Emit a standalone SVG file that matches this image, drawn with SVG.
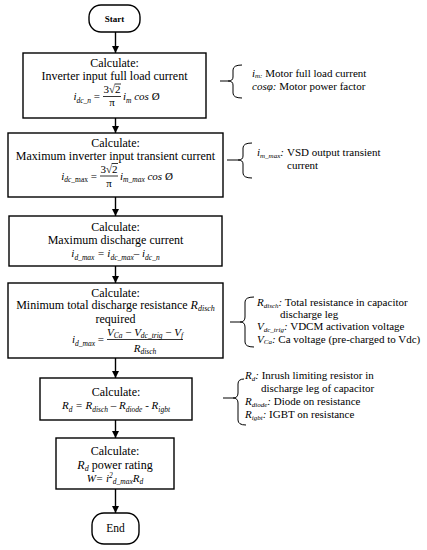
<svg xmlns="http://www.w3.org/2000/svg" width="427" height="550" viewBox="0 0 427 550">
<defs>
<marker id="ah" viewBox="0 0 10 10" refX="10" refY="5" markerWidth="7" markerHeight="7" orient="auto" markerUnits="userSpaceOnUse"><path d="M0,0 L10,5 L0,10 z" fill="#000"/></marker>
<style>
.b{fill:#fff;stroke:#000;stroke-width:1.4}
text{font-family:"Liberation Serif","Times New Roman",serif;fill:#000}
.t{font-size:12px;text-anchor:middle}
.f{font-size:11px;font-style:italic}
.n{font-size:11px}
.a{font-size:11px}
.i{font-style:italic}
.s{font-size:7.5px}
.ss{font-size:7px;font-style:italic}
.bar{stroke:#000;stroke-width:0.8}
.br{fill:none;stroke:#000;stroke-width:1}
.c line{stroke:#000;stroke-width:1.4;marker-end:url(#ah)}
</style>
</defs>
<rect width="427" height="550" fill="#fff"/>
<g id="connectors" class="c">
<line x1="115.5" y1="32" x2="115.5" y2="53"/>
<line x1="115.5" y1="118" x2="115.5" y2="133"/>
<line x1="115.5" y1="197" x2="115.5" y2="216"/>
<line x1="115.5" y1="266" x2="115.5" y2="283"/>
<line x1="115.5" y1="358" x2="115.5" y2="378"/>
<line x1="115.5" y1="420" x2="115.5" y2="438"/>
<line x1="115.5" y1="489" x2="115.5" y2="513"/>
</g>
<g id="start">
<rect class="b" x="89" y="5" width="51" height="27" rx="12"/>
<text x="114.5" y="21.5" style="font-size:9px;font-weight:bold" text-anchor="middle">Start</text>
</g>
<g id="calc1">
<rect class="b" x="23" y="53" width="183" height="65"/>
<text class="t" x="114.5" y="67">Calculate:</text>
<text class="t" x="114.5" y="80">Inverter input full load current</text>
<text class="f" x="100" y="100" text-anchor="end">i<tspan class="s" dy="2.5">dc_n</tspan><tspan dy="-2.5" font-style="normal"> =</tspan></text>
<text class="n" x="112" y="93" text-anchor="middle">3√2</text>
<line class="bar" x1="114.6" y1="84" x2="121" y2="84"/>
<line class="bar" x1="103" y1="96.5" x2="121" y2="96.5"/>
<text class="n" x="112" y="106" text-anchor="middle">π</text>
<text class="f" x="123" y="100">i<tspan class="s" dy="2.5">m</tspan><tspan dy="-2.5"> cos </tspan><tspan font-style="normal">Ø</tspan></text>
</g>
<g id="calc2">
<rect class="b" x="8" y="133" width="215" height="64"/>
<text class="t" x="115.5" y="147">Calculate:</text>
<text class="t" x="115.5" y="160">Maximum inverter input transient current</text>
<text class="f" x="97" y="179.5" text-anchor="end">i<tspan class="s" dy="2.5">dc_</tspan><tspan class="s" font-style="normal">max</tspan><tspan dy="-2.5" font-style="normal"> =</tspan></text>
<text class="n" x="109" y="172.5" text-anchor="middle">3√2</text>
<line class="bar" x1="111.6" y1="163.5" x2="118" y2="163.5"/>
<line class="bar" x1="100" y1="176" x2="118" y2="176"/>
<text class="n" x="109" y="186.5" text-anchor="middle">π</text>
<text class="f" x="120" y="179.5">i<tspan class="s" dy="2.5">m_max</tspan><tspan dy="-2.5"> cos </tspan><tspan font-style="normal">Ø</tspan></text>
</g>
<g id="calc3">
<rect class="b" x="9" y="216" width="213" height="50"/>
<text class="t" x="115.5" y="231">Calculate:</text>
<text class="t" x="115.5" y="244">Maximum discharge current</text>
<text class="f" x="115.5" y="257" text-anchor="middle">i<tspan class="s" dy="2.5">d_max</tspan><tspan dy="-2.5"> = i</tspan><tspan class="s" dy="2.5">dc_max</tspan><tspan dy="-2.5">– i</tspan><tspan class="s" dy="2.5">dc_n</tspan></text>
</g>
<g id="calc4">
<rect class="b" x="8" y="283" width="215" height="75"/>
<text class="t" x="115.5" y="296.5">Calculate:</text>
<text class="t" x="115.5" y="309">Minimum total discharge resistance <tspan class="i">R</tspan><tspan class="i" font-size="8" dy="2">disch</tspan></text>
<text class="t" x="115.5" y="322.5">required</text>
<text class="f" x="104" y="343" text-anchor="end">i<tspan class="s" dy="2.5">d_max</tspan><tspan dy="-2.5" font-style="normal"> =</tspan></text>
<text class="f" x="145" y="335.5" text-anchor="middle">V<tspan class="s" dy="2.5">Ca</tspan><tspan dy="-2.5" font-style="normal"> − </tspan>V<tspan class="s" dy="2.5">dc_trig</tspan><tspan dy="-2.5" font-style="normal"> − </tspan>V<tspan class="s" dy="2.5">f</tspan></text>
<line class="bar" x1="107" y1="339.5" x2="183" y2="339.5"/>
<text class="f" x="145" y="351.5" text-anchor="middle">R<tspan class="s" dy="2.5">disch</tspan></text>
</g>
<g id="calc5">
<rect class="b" x="40" y="378" width="152" height="42"/>
<text class="t" x="116" y="396">Calculate:</text>
<text class="f" x="116" y="409" text-anchor="middle">R<tspan class="s" dy="2.5">d</tspan><tspan dy="-2.5"> = R</tspan><tspan class="s" dy="2.5">disch</tspan><tspan dy="-2.5"> – R</tspan><tspan class="s" dy="2.5">diode</tspan><tspan dy="-2.5"> - R</tspan><tspan class="s" dy="2.5">igbt</tspan></text>
</g>
<g id="calc6">
<rect class="b" x="56" y="438" width="118" height="51"/>
<text class="t" x="115" y="455">Calculate:</text>
<text class="t" x="115" y="468.5"><tspan class="i">R</tspan><tspan class="i" font-size="8" dy="2.5">d</tspan><tspan dy="-2.5"> power rating</tspan></text>
<text class="f" x="115" y="481.5" text-anchor="middle">W= i<tspan class="s" dy="-4">2</tspan><tspan class="s" dy="6.5">d_max</tspan><tspan dy="-2.5">R</tspan><tspan class="s" dy="2.5">d</tspan></text>
</g>
<g id="end">
<rect class="b" x="92" y="513" width="47" height="31" rx="12"/>
<text x="115.5" y="532" style="font-size:11.5px" text-anchor="middle">End</text>
</g>
<g id="note1">
<path class="br" d="M242,65 Q233,65 233,70 L233,77 Q233,81 228,81 L220,81 M228,81 Q233,81 233,85 L233,93 Q233,98 242,98"/>
<text class="a" x="252" y="76.5"><tspan class="i">i</tspan><tspan class="ss" dy="1.5">m:</tspan><tspan dy="-1.5"> Motor full load current</tspan></text>
<text class="a" x="252" y="90"><tspan class="i">cosφ:</tspan> Motor power factor</text>
</g>
<g id="note2">
<path class="br" d="M252,143 Q243,143 243,148 L243,156 Q243,160 238,160 L227,160 M238,160 Q243,160 243,164 L243,173 Q243,178 252,178"/>
<text class="a" x="257" y="156"><tspan class="i">i</tspan><tspan class="ss" dy="1.5">m_max</tspan><tspan class="i" dy="-1.5">:</tspan><tspan x="287">VSD output transient</tspan></text>
<text class="a" x="287" y="168.5">current</text>
</g>
<g id="note3">
<path class="br" d="M254,297 Q245,297 245,302 L245,317 Q245,322 240,322 L230,322 M240,322 Q245,322 245,327 L245,342 Q245,347 254,347"/>
<text class="a" x="257" y="306"><tspan class="i">R</tspan><tspan class="ss" dy="1.5">disch</tspan><tspan class="i" dy="-1.5">:</tspan> Total resistance in capacitor</text>
<text class="a" x="280" y="318">discharge leg</text>
<text class="a" x="257" y="330"><tspan class="i">V</tspan><tspan class="ss" dy="1.5">dc_trig</tspan><tspan class="i" dy="-1.5">:</tspan> VDCM activation voltage</text>
<text class="a" x="257" y="342.5"><tspan class="i">V</tspan><tspan class="ss" dy="1.5">Ca</tspan><tspan class="i" dy="-1.5">:</tspan> Ca voltage (pre-charged to Vdc)</text>
</g>
<g id="note4">
<path class="br" d="M244,379 Q238,379 238,384 L238,393 Q238,398 233,398 L223,398 M233,398 Q238,398 238,403 L238,420 Q238,425 246,425"/>
<text class="a" x="245" y="379"><tspan class="i">R</tspan><tspan class="ss" dy="1.5">d</tspan><tspan class="i" dy="-1.5">:</tspan> Inrush limiting resistor in</text>
<text class="a" x="261" y="392">discharge leg of capacitor</text>
<text class="a" x="245" y="405"><tspan class="i">R</tspan><tspan class="ss" dy="1.5">diode</tspan><tspan class="i" dy="-1.5">:</tspan> Diode on resistance</text>
<text class="a" x="245" y="418"><tspan class="i">R</tspan><tspan class="ss" dy="1.5">igbt</tspan><tspan class="i" dy="-1.5">:</tspan> IGBT on resistance</text>
</g>
</svg>
